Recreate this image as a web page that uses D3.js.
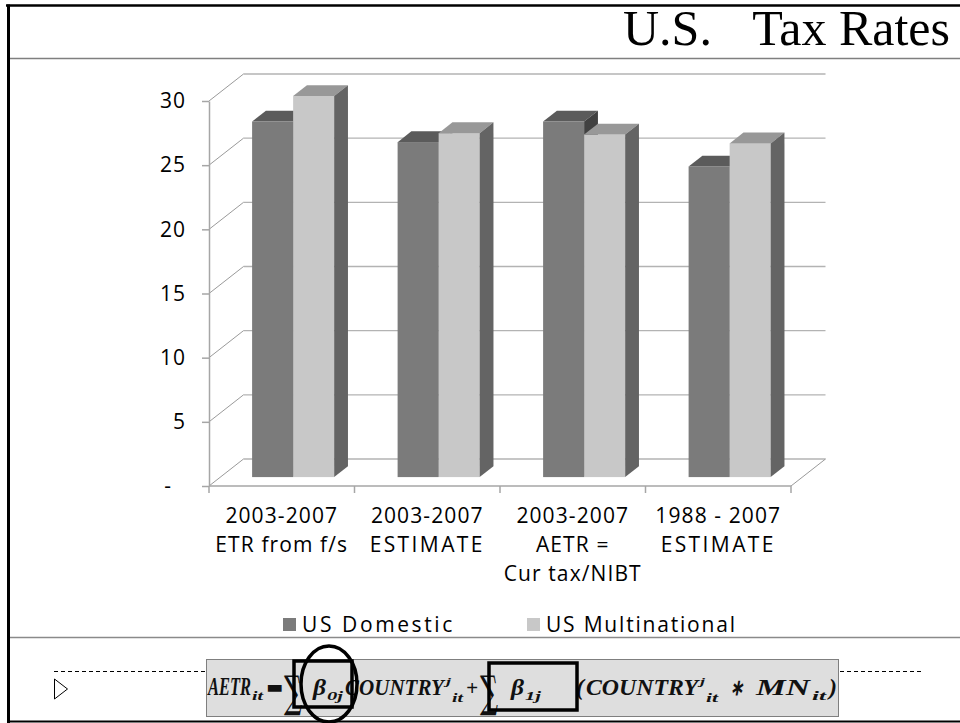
<!DOCTYPE html>
<html>
<head>
<meta charset="utf-8">
<script src="https://cdn.jsdelivr.net/npm/d3@7/dist/d3.min.js"></script>
<style>
  body { margin: 0; background: #fff; }
  svg { display: block; }
</style>
</head>
<body>
<svg id="chart" width="960" height="723"></svg>
<script>
// ---- data ----
const categories = ["c1", "c2", "c3", "c4"];
const categoryLines = [
  ["2003-2007", "ETR from f/s"],
  ["2003-2007", "ESTIMATE"],
  ["2003-2007", "AETR =", "Cur tax/NIBT"],
  ["1988 - 2007", "ESTIMATE"]
];
const seriesNames = ["US Domestic", "US Multinational"];
const domesticValues = [27.7, 26.1, 27.7, 24.2];
const multinationalValues = [29.7, 26.8, 26.7, 26.0];
const yTickValues = [0, 5, 10, 15, 20, 25, 30];
const yTickLabels = ["-", "5", "10", "15", "20", "25", "30"];
const titleText = ["U.S.", "Tax Rates"];

// ---- layout ----
const svg = d3.select("#chart");
const W = 960, H = 723;
const wall = { dx: 34.5, dy: -27 };          // depth vector of the 3-D box
const barDepth = { front: 0.33, back: 0.73 }; // bar slab inside the box depth
const labelFont = "'Open Sans', sans-serif";

const x = d3.scaleBand().domain(categories).range([209, 791])
  .paddingInner(0.436).paddingOuter(0.218);
const xs = d3.scaleBand().domain(seriesNames).range([0, x.bandwidth()]);
const y = d3.scaleLinear().domain([0, 30]).range([486, 101]);
const boundary = d3.scaleLinear().domain([0, categories.length]).range(x.range());

const colors = {
  "US Domestic":      { front: "#7b7b7b", top: "#5b5b5b", side: "#414141" },
  "US Multinational": { front: "#c8c8c8", top: "#989898", side: "#646464" }
};

// ---- frame ----
svg.append("rect").attr("width", W).attr("height", H).attr("fill", "#fff");
svg.append("line").attr("x1", 7).attr("x2", W).attr("y1", 58.5).attr("y2", 58.5)
  .attr("stroke", "#7f7f7f").attr("stroke-width", 1.5);
svg.append("line").attr("x1", 7).attr("x2", W).attr("y1", 637.5).attr("y2", 637.5)
  .attr("stroke", "#8a8a8a").attr("stroke-width", 1.5);
svg.append("line").attr("x1", 6).attr("x2", W).attr("y1", 5.5).attr("y2", 5.5)
  .attr("stroke", "#000").attr("stroke-width", 2.5);
svg.append("line").attr("x1", 8.5).attr("x2", 8.5).attr("y1", 4.5).attr("y2", 723)
  .attr("stroke", "#000").attr("stroke-width", 3);
svg.append("line").attr("x1", 7).attr("x2", W).attr("y1", 721.5).attr("y2", 721.5)
  .attr("stroke", "#000").attr("stroke-width", 2);

// ---- title ----
const title = svg.append("g").attr("font-family", "'Liberation Serif', 'Times New Roman', serif")
  .attr("font-size", 50).attr("fill", "#000");
title.append("text").attr("x", 623).attr("y", 45).text(titleText[0]);
title.append("text").attr("x", 950).attr("y", 45).attr("text-anchor", "end").text(titleText[1]);

// ---- 3-D walls ----
const walls = svg.append("g").attr("fill", "none");
const [x0, x1] = x.range();
// back-wall gridlines
walls.selectAll("line.grid").data(yTickValues).join("line")
  .attr("class", "grid")
  .attr("x1", x0 + wall.dx).attr("x2", x1 + wall.dx)
  .attr("y1", d => y(d) + wall.dy).attr("y2", d => y(d) + wall.dy)
  .attr("stroke", "#b3b3b3").attr("stroke-width", 1.3);
// side-wall diagonals
walls.selectAll("line.diag").data(yTickValues).join("line")
  .attr("class", "diag")
  .attr("x1", x0).attr("x2", x0 + wall.dx)
  .attr("y1", d => y(d)).attr("y2", d => y(d) + wall.dy)
  .attr("stroke", "#9a9a9a").attr("stroke-width", 1);
// floor front edge and right edge
walls.append("line").attr("x1", x0).attr("x2", x1).attr("y1", y(0)).attr("y2", y(0))
  .attr("stroke", "#a6a6a6").attr("stroke-width", 1.5);
walls.append("line").attr("x1", x1).attr("x2", x1 + wall.dx)
  .attr("y1", y(0)).attr("y2", y(0) + wall.dy)
  .attr("stroke", "#9a9a9a").attr("stroke-width", 1);

// ---- value axis ----
const yAxis = d3.axisLeft(y).tickValues(yTickValues)
  .tickFormat((d, i) => yTickLabels[i]).tickSize(7).tickSizeOuter(0).tickPadding(16);
const gy = svg.append("g").attr("transform", `translate(${x0},0)`).call(yAxis);
gy.select(".domain").attr("stroke", "#a6a6a6").attr("stroke-width", 1.5);
gy.selectAll(".tick line").attr("stroke", "#a6a6a6").attr("stroke-width", 1.5);
gy.selectAll(".tick text").attr("font-family", labelFont).attr("font-size", 21)
  .attr("fill", "#000").attr("letter-spacing", 1)
  .attr("dx", d => d === 0 ? -14 : 0);

// category boundary ticks
svg.append("g").selectAll("line").data(d3.range(categories.length + 1)).join("line")
  .attr("x1", d => boundary(d)).attr("x2", d => boundary(d))
  .attr("y1", y(0)).attr("y2", y(0) + 7)
  .attr("stroke", "#a6a6a6").attr("stroke-width", 1.5);

// ---- bars ----
const bdx = (barDepth.back - barDepth.front) * wall.dx;
const bdy = (barDepth.back - barDepth.front) * wall.dy;
const fdx = barDepth.front * wall.dx, fdy = barDepth.front * wall.dy;
const barData = [];
categories.forEach((c, i) => {
  barData.push({ cat: c, s: seriesNames[0], v: domesticValues[i] });
  barData.push({ cat: c, s: seriesNames[1], v: multinationalValues[i] });
});
const bars = svg.append("g");
barData.forEach(d => {
  const bx = x(d.cat) + xs(d.s) + fdx;
  const bw = xs.bandwidth();
  const top = y(d.v) + fdy, bot = y(0) + fdy;
  const col = colors[d.s];
  const g = bars.append("g");
  g.append("rect").attr("x", bx).attr("y", top).attr("width", bw).attr("height", bot - top)
    .attr("fill", col.front);
  g.append("polygon").attr("fill", col.top).attr("points", [
    [bx, top], [bx + bw, top], [bx + bw + bdx, top + bdy], [bx + bdx, top + bdy]
  ].join(" "));
  g.append("polygon").attr("fill", col.side).attr("points", [
    [bx + bw, top], [bx + bw + bdx, top + bdy], [bx + bw + bdx, bot + bdy], [bx + bw, bot]
  ].join(" "));
});

// ---- category labels ----
const catG = svg.append("g").attr("font-family", labelFont).attr("font-size", 21)
  .attr("fill", "#000").attr("text-anchor", "middle");
categories.forEach((c, i) => {
  const cx = x(c) + x.bandwidth() / 2;
  categoryLines[i].forEach((line, j) => {
    catG.append("text").attr("x", cx).attr("y", 523 + j * 29)
      .attr("letter-spacing", line === "ESTIMATE" ? 2.4 : 1.1).text(line);
  });
});

// ---- legend ----
const legend = svg.append("g").attr("font-family", labelFont).attr("font-size", 21).attr("fill", "#000");
const legendX = [283, 527];
seriesNames.forEach((s, i) => {
  legend.append("rect").attr("x", legendX[i]).attr("y", 618).attr("width", 13).attr("height", 13)
    .attr("fill", colors[s].front);
  legend.append("text").attr("x", legendX[i] + 19).attr("y", 632)
    .attr("letter-spacing", i === 0 ? 2.6 : 1.8).text(s);
});

// ---- regression note ----
const note = svg.append("g");
note.append("line").attr("x1", 54).attr("x2", 206).attr("y1", 671.5).attr("y2", 671.5)
  .attr("stroke", "#000").attr("stroke-dasharray", "4 3");
note.append("line").attr("x1", 840).attr("x2", 922).attr("y1", 671.5).attr("y2", 671.5)
  .attr("stroke", "#000").attr("stroke-dasharray", "4 3");
note.append("path").attr("d", "M54.5,679 L67.5,689 L54.5,699 Z")
  .attr("fill", "none").attr("stroke", "#000").attr("stroke-width", 1);
note.append("rect").attr("x", 206.5).attr("y", 659.5).attr("width", 632).attr("height", 57)
  .attr("fill", "#dedede").attr("stroke", "#7f7f7f").attr("stroke-width", 1);

// formula: each glyph run is squeezed horizontally into its own slot
const fx = note.append("g").attr("font-family", "'Liberation Serif', serif")
  .attr("font-style", "italic").attr("font-weight", "bold").attr("fill", "#111");
const BASE = 695;
function run(t, xa, xb, size, shift, sel) {
  const el = (sel || fx).append("text").attr("x", 0).attr("y", 0).attr("font-size", size).text(t);
  const w = el.node().getComputedTextLength();
  const sx = w > 0 ? (xb - xa) / w : 1;
  el.attr("transform", `translate(${xa},${BASE + (shift || 0)}) scale(${sx},1)`);
  return el;
}
const sig = note.append("g").attr("font-family", "'DejaVu Serif', serif").attr("fill", "#111");
run("AETR", 208, 251, 25);
run("it", 252, 263, 13, 5);
fx.append("text").attr("x", 266).attr("y", 693).attr("font-family", "'DejaVu Sans', sans-serif")
  .attr("font-style", "normal").attr("font-size", 18).text("\u25AC");
run("\u2211", 284, 302, 44, 12, sig);
run("\u03B2", 313, 326, 24);
run("0j", 327, 343, 13, 5);
run("COUNTRY", 345, 444, 24);
run("j", 446, 451, 11, -10);
run("it", 452, 463, 12, 7);
run("+", 466, 478, 22);
run("\u2211", 480, 498, 44, 12, sig);
run("\u03B2", 511, 524, 24);
run("1j", 525, 541, 13, 5);
run("(", 576, 584, 24);
run("COUNTRY", 586, 698, 24);
run("j", 700, 705, 11, -10);
run("it", 706, 718, 12, 7);
run("\u2217", 730, 743, 22);
run("MN", 756, 810, 24);
run("it", 812, 826, 13, 5);
run(")", 829, 837, 24);

// highlight marks over the coefficients
note.append("rect").attr("x", 294).attr("y", 661).attr("width", 58).attr("height", 46)
  .attr("fill", "none").attr("stroke", "#000").attr("stroke-width", 3.5);
note.append("ellipse").attr("cx", 329).attr("cy", 684).attr("rx", 28).attr("ry", 38)
  .attr("fill", "none").attr("stroke", "#000").attr("stroke-width", 3.5);
note.append("rect").attr("x", 489).attr("y", 663).attr("width", 88).attr("height", 47)
  .attr("fill", "none").attr("stroke", "#000").attr("stroke-width", 3.5);
</script>
</body>
</html>
